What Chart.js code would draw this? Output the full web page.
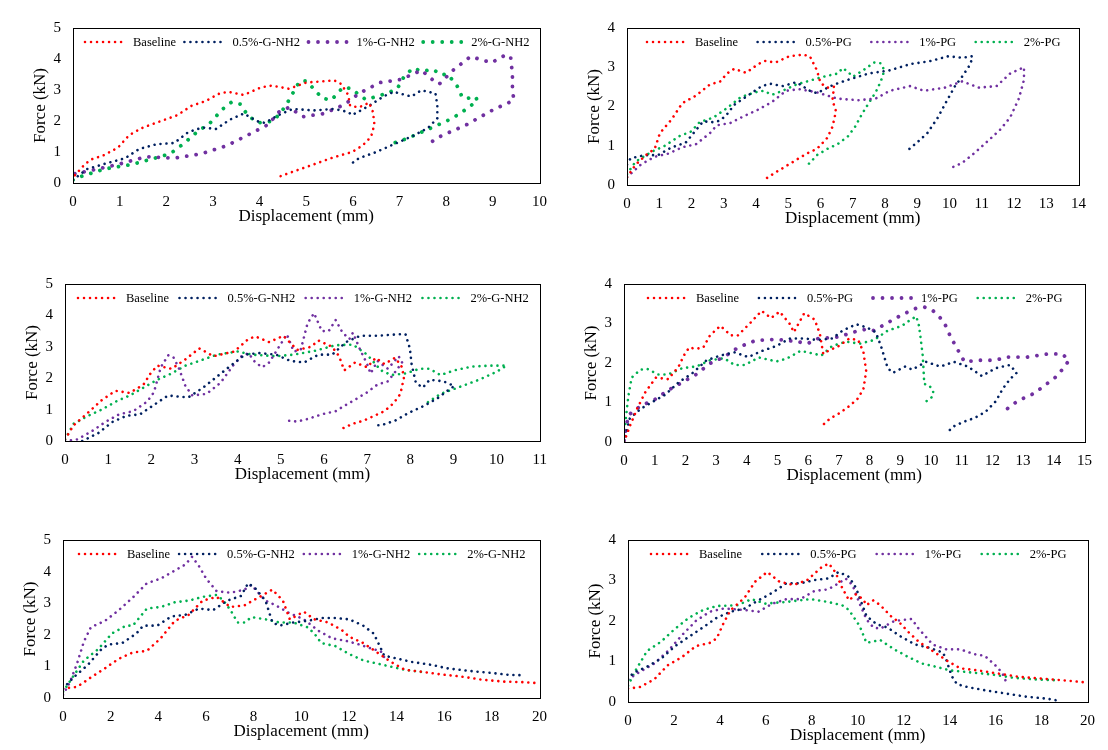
<!DOCTYPE html>
<html><head><meta charset="utf-8">
<script src="https://cdn.jsdelivr.net/npm/chart.js@4.4.1/dist/chart.umd.min.js"></script>
<style>
html,body{margin:0;padding:0;background:#fff;width:1108px;height:750px;overflow:hidden;}
canvas{position:absolute;}
</style></head><body>
<script>
// ---------- series labels ----------
const gnh2Labels = ['Baseline', '0.5%-G-NH2', '1%-G-NH2', '2%-G-NH2'];
const pgLabels = ['Baseline', '0.5%-PG', '1%-PG', '2%-PG'];

// ---------- axis ranges ----------
const xMax = [10, 14, 11, 15, 20, 20];
const yMax = [5, 4, 5, 4, 5, 4];
const xStep = [1, 1, 1, 1, 2, 2];

// ---------- Panel 1 (G-NH2) ----------
const p1_base_x = [0.04,0.22,0.37,0.67,0.97,1.2,1.5,1.87,2.24,2.54,2.84,3.14,3.33,3.66,4.04,4.26,4.63,5.0,5.6,5.75,5.9,5.94,6.13,6.35,6.43,6.46,6.39,6.2,5.98,5.75,5.53,5.16,4.78,4.41];
const p1_base_y = [0.25,0.55,0.75,0.9,1.15,1.54,1.79,1.99,2.19,2.49,2.64,2.89,2.94,2.84,3.09,3.14,3.04,3.24,3.31,3.19,2.84,2.49,2.44,2.59,2.29,1.89,1.49,1.2,1.0,0.9,0.8,0.6,0.4,0.2];
const p1_s05_x = [0,0.3,0.75,1.12,1.42,1.79,2.17,2.47,2.77,3.06,3.36,3.66,3.96,4.11,4.41,4.71,5.16,5.6,5.9,5.98,6.35,6.65,6.88,7.25,7.47,7.77,7.81,7.81,7.62,7.32,6.88,6.5,6.13,5.9];
const p1_s05_y = [0.1,0.45,0.65,0.8,1.1,1.25,1.29,1.64,1.79,1.74,2.04,2.24,1.99,1.94,2.19,2.39,2.34,2.39,2.29,2.19,2.49,2.79,2.94,2.79,2.99,2.89,2.49,2.09,1.79,1.54,1.25,1.0,0.8,0.55];
const p1_s1_x = [0.04,0.37,0.97,1.57,2.17,2.77,3.29,3.74,4.19,4.41,4.63,4.93,5.38,5.83,6.13,6.58,7.03,7.25,7.47,7.7,7.85,8.15,8.52,8.97,9.27,9.38,9.42,9.42,9.45,9.34,9.04,8.74,8.45,8.15,7.85,7.7];
const p1_s1_y = [0.3,0.4,0.6,0.85,0.8,0.95,1.2,1.54,1.89,2.29,2.44,2.14,2.24,2.54,2.89,3.24,3.34,3.49,3.64,3.34,3.19,3.64,4.08,3.88,4.13,4.08,3.49,2.99,2.69,2.59,2.39,2.14,1.89,1.69,1.49,1.34];
const p1_s2_x = [0,0.15,0.67,1.27,1.87,2.09,2.39,2.69,2.91,3.06,3.21,3.4,3.59,3.74,3.96,4.26,4.41,4.56,4.71,4.86,5.0,5.16,5.34,5.53,5.64,5.79,5.98,6.13,6.28,6.5,6.73,6.95,7.1,7.29,7.47,7.73,7.88,8.03,8.18,8.3,8.33,8.48,8.63,8.67,8.52,8.3,8.0,7.77,7.47,7.17,6.88];
const p1_s2_y = [0.1,0.2,0.45,0.6,0.85,0.95,1.29,1.69,1.89,2.14,2.39,2.61,2.54,2.19,1.94,1.99,2.19,2.49,2.89,3.29,3.29,3.04,2.74,2.67,2.84,3.09,3.04,2.84,2.69,2.79,2.89,3.04,3.44,3.71,3.61,3.66,3.49,3.51,3.24,2.99,2.77,2.74,2.79,2.64,2.49,2.24,1.99,1.84,1.64,1.44,1.29];

// ---------- Panel 2 (PG) ----------
const p2_base_x = [0,0.27,0.64,0.86,1.02,1.39,1.71,2.14,2.57,2.89,3.1,3.32,3.69,4.07,4.28,4.6,5.03,5.46,5.67,5.89,6.0,6.21,6.42,6.37,6.48,6.37,6.21,5.89,5.57,5.25,4.93,4.6,4.34];
const p2_base_y = [0.2,0.52,0.8,0.92,1.32,1.68,2.08,2.28,2.56,2.64,2.84,2.96,2.86,3.08,3.16,3.12,3.28,3.32,3.28,2.92,2.6,2.48,2.5,2.16,1.88,1.48,1.2,0.92,0.8,0.64,0.48,0.32,0.18];
const p2_s05_x = [0,0.11,0.54,0.96,1.39,1.82,2.14,2.36,2.68,2.89,3.1,3.32,3.75,4.18,4.44,4.82,5.25,5.67,5.89,6.42,6.85,7.49,8.14,8.78,9.42,9.96,10.39,10.71,10.65,10.39,10.17,9.9,9.64,9.31,8.99,8.67];
const p2_s05_y = [0.52,0.68,0.76,0.76,0.96,1.08,1.4,1.62,1.6,1.64,1.8,2.04,2.28,2.52,2.58,2.52,2.62,2.4,2.34,2.56,2.68,2.84,2.92,3.08,3.16,3.28,3.24,3.28,3.08,2.76,2.52,2.12,1.72,1.32,1.08,0.86];
const p2_s1_x = [0,0.43,0.86,1.28,1.71,2.14,2.57,2.78,3.21,3.64,4.07,4.5,4.93,5.35,5.89,6.53,7.17,7.71,8.14,8.78,9.21,9.85,10.39,10.92,11.46,11.88,12.31,12.31,12.15,11.88,11.56,11.24,10.81,10.39,10.06];
const p2_s1_y = [0.2,0.52,0.72,0.8,0.96,1.04,1.32,1.52,1.58,1.76,1.92,2.12,2.4,2.44,2.36,2.2,2.16,2.2,2.4,2.52,2.4,2.48,2.64,2.48,2.52,2.84,3.0,2.68,2.2,1.72,1.4,1.16,0.84,0.56,0.44];
const p2_s2_x = [0,0.27,0.75,1.18,1.61,1.98,2.25,2.68,3.1,3.53,3.96,4.23,4.5,4.82,5.25,5.67,6.1,6.53,6.69,6.85,7.01,7.39,7.66,7.87,7.98,7.87,7.71,7.49,7.28,7.07,6.85,6.53,6.21,5.89,5.57];
const p2_s2_y = [0.28,0.6,0.84,1.0,1.24,1.36,1.6,1.72,1.96,2.24,2.36,2.4,2.3,2.4,2.56,2.66,2.76,2.84,2.98,2.88,2.76,2.96,3.12,3.1,2.92,2.64,2.36,2.08,1.8,1.48,1.24,1.04,0.92,0.76,0.48];

// ---------- Panel 3 (G-NH2) ----------
const p3_base_x = [0,0.2,0.53,0.85,1.17,1.5,1.82,1.98,2.14,2.47,2.79,3.11,3.44,3.92,4.25,4.41,4.73,5.06,5.38,5.7,5.87,6.19,6.35,6.47,6.72,7.0,7.2,7.4,7.65,7.81,7.85,7.77,7.61,7.4,7.16,6.92,6.67,6.43];
const p3_base_y = [0.05,0.5,0.9,1.3,1.6,1.53,1.8,2.15,2.4,2.3,2.6,2.95,2.7,2.85,3.25,3.33,3.15,3.35,2.9,3.0,3.2,3.0,2.7,2.25,2.5,2.35,2.65,2.45,2.65,2.35,2.0,1.5,1.2,0.95,0.8,0.65,0.55,0.4];
const p3_s05_x = [0.4,0.77,1.09,1.42,1.74,2.06,2.39,2.71,2.87,3.2,3.52,3.84,4.17,4.49,4.89,5.22,5.54,5.87,6.19,6.51,6.84,7.24,7.73,7.89,7.99,8.03,8.13,8.29,8.45,8.77,9.02,8.86,8.62,8.29,7.97,7.65,7.32,7.16];
const p3_s05_y = [0,0.25,0.6,0.8,0.85,1.15,1.45,1.4,1.4,1.7,2.05,2.4,2.75,2.8,2.75,2.55,2.5,2.75,2.75,3.15,3.35,3.35,3.4,3.4,2.95,2.45,1.85,1.7,1.95,1.9,1.75,1.6,1.35,1.1,0.9,0.65,0.5,0.5];
const p3_s1_x = [0,0.28,0.61,0.93,1.25,1.58,1.9,2.06,2.22,2.39,2.51,2.63,2.79,2.95,3.28,3.6,3.92,4.09,4.25,4.41,4.57,4.73,4.89,5.14,5.3,5.46,5.62,5.77,5.95,6.11,6.27,6.43,6.59,6.67,6.84,7.0,7.08,7.24,7.48,7.73,7.81,7.65,7.48,7.24,7.0,6.76,6.51,6.27,5.95,5.62,5.38,5.14];
const p3_s1_y = [0,0.05,0.3,0.6,0.85,0.95,1.25,1.55,2.35,2.73,2.67,2.35,1.75,1.45,1.5,1.85,2.45,2.7,2.8,2.5,2.35,2.5,2.85,3.4,2.85,2.9,3.75,4.07,3.5,3.5,3.85,3.45,3.25,3.45,2.9,2.45,2.15,2.55,2.3,2.7,2.5,2.2,1.9,1.8,1.55,1.35,1.15,0.95,0.85,0.7,0.62,0.65];
const p3_s2_x = [0,0.2,0.53,0.85,1.17,1.5,1.82,2.14,2.47,2.79,3.11,3.52,4.0,4.33,4.89,5.3,5.78,6.27,6.67,7.0,7.32,7.56,7.89,8.21,8.45,8.7,9.02,9.43,9.83,10.23,9.99,9.59,9.1,8.7,8.37];
const p3_s2_y = [0.05,0.55,0.8,1.0,1.25,1.45,1.7,1.95,2.15,2.4,2.55,2.75,2.85,2.75,2.7,2.75,2.87,3.05,3.07,2.75,2.25,2.1,2.15,2.3,2.3,2.1,2.25,2.37,2.4,2.4,2.2,1.95,1.7,1.5,1.2];

// ---------- Panel 4 (PG) ----------
const p4_base_x = [0,0.19,0.42,0.7,1.04,1.44,1.78,1.95,2.12,2.35,2.58,2.8,3.14,3.48,3.71,4.17,4.48,4.79,5.07,5.41,5.53,5.87,6.21,6.38,6.49,6.66,7.0,7.34,7.63,7.8,7.89,7.8,7.63,7.34,7.0,6.72,6.49];
const p4_base_y = [0,0.4,0.83,1.27,1.63,1.59,1.91,2.19,2.39,2.36,2.39,2.7,2.94,2.7,2.7,3.06,3.32,3.14,3.3,2.98,2.78,3.26,3.1,2.74,2.23,2.31,2.43,2.62,2.58,2.27,1.79,1.35,1.11,0.91,0.72,0.6,0.44];
const p4_s05_x = [0,0.19,0.53,0.87,1.33,1.78,2.24,2.69,3.14,3.6,4.05,4.51,4.96,5.41,5.87,6.32,6.78,7.12,7.57,7.91,8.2,8.37,8.59,8.76,9.16,9.39,9.84,10.3,10.75,11.2,11.66,12.11,12.57,12.79,12.57,12.34,12.11,11.77,11.43,11.09,10.75,10.52];
const p4_s05_y = [0,0.6,0.83,0.99,1.19,1.51,1.75,2.07,2.19,2.27,2.15,2.31,2.43,2.62,2.62,2.58,2.62,2.82,2.98,2.9,2.78,2.43,1.87,1.75,1.91,1.83,2.03,1.91,2.03,1.91,1.67,1.87,1.95,1.75,1.59,1.35,1.03,0.76,0.61,0.52,0.4,0.24];
const p4_s1_x = [0,0.14,0.53,0.99,1.44,1.9,2.35,2.8,3.26,3.71,4.28,4.96,5.64,5.98,6.32,7.0,7.46,7.91,8.14,8.59,9.05,9.5,9.78,10.07,10.41,10.64,10.86,11.09,11.54,12.11,12.45,13.13,13.81,14.27,14.5,14.27,14.04,13.7,13.36,12.91,12.57,12.34];
const p4_s1_y = [0.04,0.68,0.91,1.07,1.31,1.51,1.71,1.99,2.15,2.39,2.57,2.6,2.54,2.49,2.62,2.66,2.78,2.86,2.82,3.02,3.22,3.38,3.42,3.32,3.06,2.66,2.35,2.03,2.07,2.07,2.15,2.15,2.23,2.23,2.07,1.83,1.63,1.43,1.23,1.07,0.91,0.72];
const p4_s2_x = [0,0.06,0.14,0.25,0.53,0.76,1.1,1.44,1.9,2.35,2.8,3.26,3.6,3.94,4.39,4.96,5.3,5.75,6.21,6.43,6.78,7.23,7.68,8.14,8.59,9.05,9.27,9.52,9.61,9.67,9.73,9.76,9.78,9.95,10.07,10.05,9.78];
const p4_s2_y = [0,0.6,1.15,1.63,1.83,1.85,1.71,1.71,1.87,1.91,2.07,2.12,1.95,1.95,2.14,2.04,2.11,2.31,2.23,2.19,2.43,2.54,2.49,2.58,2.82,2.94,3.06,3.18,2.94,2.58,2.19,1.79,1.47,1.43,1.27,1.15,0.99];

// ---------- Panel 5 (G-NH2) ----------
const p5_base_x = [0,0.59,1.17,1.76,2.34,2.93,3.52,4.1,4.69,5.27,5.86,6.45,7.03,7.62,8.2,8.79,9.23,9.52,10.11,10.55,11.14,11.72,12.01,12.6,13.19,13.77,14.36,14.95,15.82,16.7,17.58,18.46,19.34,20];
const p5_base_y = [0.3,0.35,0.65,0.94,1.24,1.44,1.49,1.89,2.44,2.63,3.08,3.2,2.88,2.93,3.18,3.43,3.08,2.49,2.73,2.49,2.39,2.14,1.94,1.74,1.44,1.14,0.89,0.84,0.75,0.68,0.58,0.52,0.5,0.47];
const p5_s05_x = [0,0.44,1.03,1.61,1.9,2.49,3.08,3.37,3.96,4.54,5.13,5.71,6.3,6.89,7.47,7.77,8.06,8.5,8.79,9.08,9.67,10.26,10.84,11.43,12.01,12.6,13.04,13.33,13.48,14.07,14.65,15.53,16.12,17.0,17.88,18.75,19.34];
const p5_s05_y = [0.3,0.65,1.04,1.54,1.69,1.74,2.04,2.29,2.29,2.58,2.63,2.83,2.78,3.08,3.23,3.63,3.48,3.08,2.39,2.29,2.39,2.44,2.53,2.53,2.49,2.29,2.04,1.59,1.34,1.24,1.14,1.04,0.94,0.86,0.8,0.73,0.72];
const p5_s1_x = [0,0.29,0.59,0.88,1.17,1.76,2.34,2.93,3.52,4.1,4.69,5.13,5.42,5.71,6.01,6.45,7.03,7.62,7.91,8.2,8.5,8.94,9.52,10.11,10.7,11.28,11.87,12.45,13.04,13.33,13.48];
const p5_s1_y = [0.1,0.5,1.09,1.79,2.24,2.44,2.78,3.18,3.63,3.78,4.03,4.22,4.47,4.17,3.78,3.38,3.33,3.43,3.58,3.33,3.08,2.93,2.68,2.49,2.14,1.89,1.81,1.69,1.54,1.49,1.29];
const p5_s2_x = [0,0.44,0.88,1.47,2.05,2.64,2.93,3.52,4.1,4.69,5.27,5.86,6.45,6.74,7.03,7.33,7.62,7.91,8.5,9.08,9.67,10.26,10.55,10.84,11.43,12.01,12.6,13.19,13.77,14.36,15.09];
const p5_s2_y = [0.2,0.7,1.19,1.54,2.04,2.29,2.29,2.83,2.88,3.03,3.08,3.2,3.26,3.08,2.78,2.39,2.39,2.56,2.49,2.39,2.39,2.24,2.04,1.74,1.64,1.39,1.19,1.09,0.99,0.89,0.82];

// ---------- Panel 6 (PG) ----------
const p6_base_x = [0,0.53,1.14,1.74,2.35,2.95,3.56,3.86,4.17,4.47,5.08,5.53,6.06,6.59,7.2,7.8,8.41,8.74,9.02,9.32,9.62,9.92,10.23,10.38,10.68,10.98,11.44,11.82,12.2,12.65,13.26,13.86,14.47,15.23,16.14,17.05,17.95,18.86,20];
const p6_base_y = [0.33,0.37,0.56,0.91,1.11,1.38,1.46,1.57,1.96,2.27,2.58,2.97,3.21,2.97,2.89,3.01,3.32,3.42,3.21,2.82,2.51,2.66,2.54,2.39,2.51,2.39,2.12,1.96,1.73,1.49,1.26,1.03,0.83,0.78,0.7,0.62,0.58,0.54,0.48];
const p6_s05_x = [0,0.23,0.83,1.44,2.05,2.65,3.26,3.86,4.47,5.08,5.68,6.29,6.89,7.5,8.11,8.71,9.17,9.62,9.92,10.23,10.38,10.83,11.29,11.89,12.5,13.11,13.71,13.86,14.09,14.32,14.77,15.53,16.44,17.35,18.26,18.86];
const p6_s05_y = [0.56,0.72,0.87,1.07,1.38,1.61,1.84,2.08,2.23,2.31,2.51,2.7,2.93,2.93,3.01,3.05,3.21,3.09,2.82,2.35,2.12,1.92,1.84,1.61,1.42,1.34,1.22,1.03,0.64,0.44,0.37,0.29,0.21,0.13,0.08,0.02];
const p6_s1_x = [0,0.53,1.14,1.74,2.35,2.95,3.56,4.17,5.08,5.68,6.29,6.89,7.5,8.11,8.71,9.17,9.47,9.77,10.08,10.38,10.68,10.98,11.59,12.35,12.65,13.26,13.86,14.47,15.08,15.53,15.98,16.29,16.44];
const p6_s1_y = [0.56,0.75,0.95,1.26,1.65,2.0,2.23,2.31,2.27,2.23,2.43,2.54,2.54,2.74,2.78,2.93,3.05,2.89,2.43,2.04,1.84,1.81,2.0,2.05,1.81,1.42,1.3,1.3,1.18,1.14,0.91,0.72,0.52];
const p6_s2_x = [0,0.3,0.83,1.44,2.05,2.65,3.26,3.86,4.77,5.38,5.98,6.89,7.95,8.71,9.32,9.62,10.08,10.38,10.98,11.59,12.2,12.8,13.41,14.02,14.92,15.83,16.74,17.65,18.56,18.71];
const p6_s2_y = [0.4,0.75,1.26,1.49,1.81,2.08,2.27,2.37,2.39,2.54,2.43,2.47,2.54,2.47,2.39,2.27,1.88,1.46,1.53,1.3,1.11,0.95,0.87,0.78,0.73,0.68,0.6,0.56,0.54,0.48];

// ---------- assembling (layout & style below) ----------
const panelSeries = [
  [[p1_base_x,p1_base_y],[p1_s05_x,p1_s05_y],[p1_s1_x,p1_s1_y],[p1_s2_x,p1_s2_y]],
  [[p2_base_x,p2_base_y],[p2_s05_x,p2_s05_y],[p2_s1_x,p2_s1_y],[p2_s2_x,p2_s2_y]],
  [[p3_base_x,p3_base_y],[p3_s05_x,p3_s05_y],[p3_s1_x,p3_s1_y],[p3_s2_x,p3_s2_y]],
  [[p4_base_x,p4_base_y],[p4_s05_x,p4_s05_y],[p4_s1_x,p4_s1_y],[p4_s2_x,p4_s2_y]],
  [[p5_base_x,p5_base_y],[p5_s05_x,p5_s05_y],[p5_s1_x,p5_s1_y],[p5_s2_x,p5_s2_y]],
  [[p6_base_x,p6_base_y],[p6_s05_x,p6_s05_y],[p6_s1_x,p6_s1_y],[p6_s2_x,p6_s2_y]]
];
const panelLabels = [gnh2Labels, pgLabels, gnh2Labels, pgLabels, gnh2Labels, pgLabels];

const COLORS = ['#FF0000', '#002060', '#7030A0', '#00B050'];
const plotBoxes = [
  {l:73, r:542, t:17, b:183}, {l:627, r:1081, t:17, b:185},
  {l:65, r:542, t:273, b:441}, {l:624, r:1087, t:273, b:442},
  {l:63, r:542, t:529, b:698}, {l:628, r:1090, t:529, b:702}
];
const bigDots = [[0,0,1,1],[0,0,0,0],[0,0,0,0],[0,0,1,0],[0,0,0,0],[0,0,0,0]];
const legendInset = [10, 18, 11, 22, 14, 21];

const FONT = '"Liberation Serif", "Times New Roman", serif';
Chart.defaults.font.family = FONT;
Chart.defaults.color = '#000';

const YW = 70, XH = 50, PT = 10, PR = 15;

const boxPlugin = {
  id: 'plotBox',
  afterDatasetsDraw(chart) {
    const a = chart.chartArea, ctx = chart.ctx;
    ctx.save();
    ctx.strokeStyle = '#000';
    ctx.lineWidth = 1;
    ctx.setLineDash([]);
    ctx.strokeRect(Math.round(a.left) + 0.5, Math.round(a.top) + 0.5, Math.round(a.right - a.left), Math.round(a.bottom - a.top));
    ctx.restore();
  }
};

const insideLegend = {
  id: 'insideLegend',
  afterDatasetsDraw(chart, args, opts) {
    const a = chart.chartArea, ctx = chart.ctx;
    ctx.save();
    ctx.font = '12.5px ' + FONT;
    const SAMPLE = 42, SGAP = 8;
    const items = chart.data.datasets.map(ds => ({ds, tw: ctx.measureText(ds.label).width}));
    const used = items.reduce((s, it) => s + SAMPLE + SGAP + it.tw, 0);
    const gap = (a.right - a.left - 2 * opts.inset - used) / (items.length - 1);
    let x = a.left + opts.inset;
    const y = a.top + 14;
    items.forEach(it => {
      ctx.strokeStyle = it.ds.borderColor;
      ctx.lineWidth = it.ds.borderWidth;
      ctx.lineCap = 'round';
      ctx.setLineDash(it.ds.borderDash);
      ctx.beginPath();
      ctx.moveTo(x + 2, y);
      ctx.lineTo(x + SAMPLE, y);
      ctx.stroke();
      ctx.setLineDash([]);
      ctx.fillStyle = '#000';
      ctx.textBaseline = 'middle';
      ctx.textAlign = 'left';
      ctx.fillText(it.ds.label, x + SAMPLE + SGAP, y + 1);
      x += SAMPLE + SGAP + it.tw + gap;
    });
    ctx.restore();
  }
};

plotBoxes.forEach((bx, p) => {
  const cv = document.createElement('canvas');
  const w = bx.r - bx.l + YW + PR;
  const h = bx.b - bx.t + PT + XH;
  cv.width = w; cv.height = h;
  cv.style.left = (bx.l - YW) + 'px';
  cv.style.top = (bx.t - PT) + 'px';
  cv.style.width = w + 'px';
  cv.style.height = h + 'px';
  document.body.appendChild(cv);

  const datasets = panelSeries[p].map((s, i) => {
    const big = bigDots[p][i];
    return {
      label: panelLabels[p][i],
      data: s[0].map((x, k) => ({x: x, y: s[1][k]})),
      showLine: true,
      borderColor: COLORS[i],
      backgroundColor: COLORS[i],
      borderWidth: big ? 3.8 : 2.6,
      borderDash: big ? [0.01, 9.5] : [0.01, 6],
      borderCapStyle: 'round',
      borderJoinStyle: 'round',
      pointRadius: 0,
      pointHoverRadius: 0,
      fill: false,
      tension: 0
    };
  });

  new Chart(cv, {
    type: 'scatter',
    data: {datasets},
    plugins: [boxPlugin, insideLegend],
    options: {
      responsive: false,
      animation: false,
      events: [],
      devicePixelRatio: 1,
      layout: {padding: {left: 0, right: PR, top: PT, bottom: 0}},
      plugins: {
        legend: {display: false},
        tooltip: {enabled: false},
        insideLegend: {inset: legendInset[p]}
      },
      scales: {
        x: {
          type: 'linear', min: 0, max: xMax[p],
          grid: {display: false, drawTicks: false},
          border: {display: false},
          ticks: {stepSize: xStep[p], padding: 10, font: {size: 15}, color: '#000', maxRotation: 0},
          title: {display: true, text: 'Displacement (mm)', font: {size: 17}, color: '#000', padding: {top: 0, bottom: 6}},
          afterFit: (sc) => { sc.height = XH; }
        },
        y: {
          type: 'linear', min: 0, max: yMax[p],
          grid: {display: false, drawTicks: false},
          border: {display: false},
          ticks: {stepSize: 1, padding: 12, font: {size: 15}, color: '#000'},
          title: {display: true, text: 'Force (kN)', font: {size: 17}, color: '#000', padding: {top: 27, bottom: 0}},
          afterFit: (sc) => { sc.width = YW; }
        }
      }
    }
  });
});
</script>
</body></html>
